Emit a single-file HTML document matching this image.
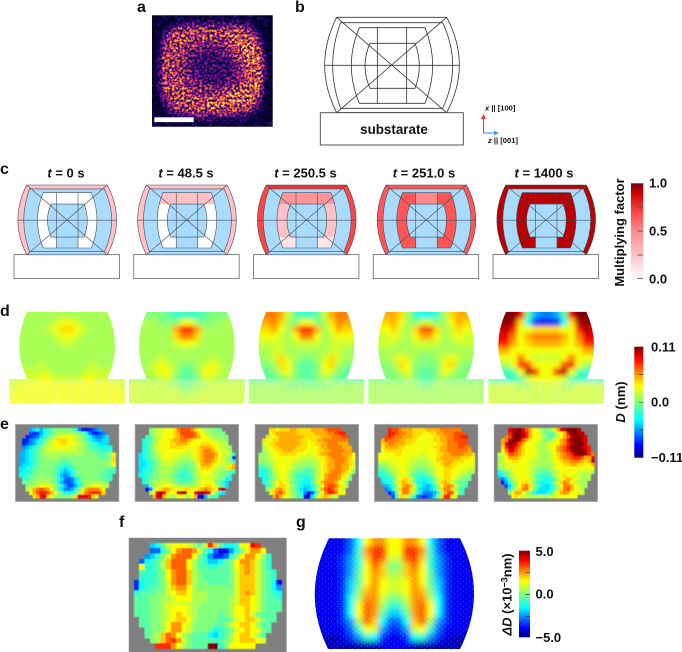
<!DOCTYPE html>
<html lang="en">
<head>
<meta charset="utf-8">
<title>Strain maps figure</title>
<style>
html,body{margin:0;padding:0;background:#fff;width:682px;height:652px;overflow:hidden}
svg{display:block;font-family:"Liberation Sans",sans-serif}
text{font-weight:bold;fill:#111}
.pl{font-size:16px}
.tl{font-size:13px;text-anchor:middle}
.cb{font-size:13px}
</style>
</head>
<body>
<svg id="fig" xmlns="http://www.w3.org/2000/svg" width="682" height="652" viewBox="0 0 682 652">
<defs>
  <linearGradient id="jetV" x1="0" y1="0" x2="0" y2="1">
    <stop offset="0" stop-color="#7f0000"/><stop offset=".11" stop-color="#ff0000"/><stop offset=".35" stop-color="#ffff00"/><stop offset=".66" stop-color="#00ffff"/><stop offset=".89" stop-color="#0000ff"/><stop offset="1" stop-color="#00007f"/>
  </linearGradient>
  <linearGradient id="multV" x1="0" y1="0" x2="0" y2="1">
    <stop offset="0" stop-color="#7a0018"/><stop offset=".1" stop-color="#c80000"/><stop offset=".3" stop-color="#ff4444"/><stop offset=".5" stop-color="#ff8a8c"/><stop offset=".75" stop-color="#ffc0c6"/><stop offset="1" stop-color="#ffffff"/>
  </linearGradient>
  <filter id="blurD" x="-20%" y="-20%" width="140%" height="140%"><feGaussianBlur stdDeviation="2.5"/></filter>
  <filter id="blurG" x="-20%" y="-20%" width="140%" height="140%"><feGaussianBlur stdDeviation="2.6"/></filter>
  <filter id="blurCell" x="-5%" y="-5%" width="110%" height="110%"><feGaussianBlur stdDeviation="0.45"/></filter>
  <filter id="fireNoise" filterUnits="userSpaceOnUse" x="152" y="15.3" width="120.7" height="111.4" color-interpolation-filters="sRGB">
    <feGaussianBlur in="SourceGraphic" stdDeviation="1.5" result="heat"/>
    <feTurbulence type="fractalNoise" baseFrequency="0.4" numOctaves="2" seed="11" result="turb"/>
    <feColorMatrix in="turb" type="matrix" values="2.2 0 0 0 -0.6  2.2 0 0 0 -0.6  2.2 0 0 0 -0.6  0 0 0 0 1" result="grain"/>
    <feComposite in="heat" in2="grain" operator="arithmetic" k1="0.95" k2="0.3" k3="0.1" k4="-0.07" result="mix"/>
    <feComponentTransfer in="mix" result="cmap">
      <feFuncR type="table" tableValues="0 .03 .16 .36 .6 .82 .94 .99 1 1"/>
      <feFuncG type="table" tableValues="0 .01 .03 .05 .12 .26 .46 .66 .86 1"/>
      <feFuncB type="table" tableValues=".12 .24 .42 .52 .5 .36 .2 .12 .2 .55"/>
      <feFuncA type="linear" slope="0" intercept="1"/>
    </feComponentTransfer>
    <feGaussianBlur in="cmap" stdDeviation="0.35"/>
  </filter>
  <pattern id="speck" width="7" height="6" patternUnits="userSpaceOnUse">
    <circle cx="1.5" cy="1.5" r=".6" fill="#fff"/><circle cx="5" cy="2.6" r=".5" fill="#fff"/><circle cx="3" cy="4.8" r=".55" fill="#fff"/>
  </pattern>
  <pattern id="speckG" width="6" height="5" patternUnits="userSpaceOnUse">
    <circle cx="1.5" cy="1.5" r=".55" fill="#fff"/><circle cx="4.5" cy="3.8" r=".55" fill="#fff"/>
  </pattern>
  <clipPath id="clipA"><rect x="152" y="15.3" width="120.7" height="111.4"/></clipPath>
  <clipPath id="clipD"><path d="M17.7,0 L98,0 Q113.4,33.6 98,67.3 L115.7,67.3 L115.7,92 L0,92 L0,67.3 L17.7,67.3 Q2.3,33.6 17.7,0 Z"/></clipPath>
  <clipPath id="clipG"><path d="M329,538.3 L460,538.3 Q488,593.5 460,649 L328,649 Q301,593.5 329,538.3 Z"/></clipPath>
  <clipPath id="clipF"><rect x="128.7" y="537.7" width="158" height="114.3"/></clipPath>
  <clipPath id="clipThird"><path d="M688,83 L885,83 Q931,196 885,310 L688,310 Q640,196 688,83 Z"/></clipPath>
  <g id="wire" fill="none">
    <path vector-effect="non-scaling-stroke" d="M620,52 L950,52 Q1026,195 950,338 L620,338 Q548,195 620,52 Z"/>
    <path vector-effect="non-scaling-stroke" d="M632,68 L938,68 Q998,196 938,325 L632,325 Q584,196 632,68 Z"/>
    <path vector-effect="non-scaling-stroke" d="M688,83 L885,83 Q931,196 885,310 L688,310 Q640,196 688,83 Z"/>
    <path vector-effect="non-scaling-stroke" d="M720,130 L855,130 Q881,197 855,265 L720,265 Q690,197 720,130 Z"/>
    <path vector-effect="non-scaling-stroke" d="M742,83 L742,310 M830,83 L830,310 M584,196 L988,196 M620,52 L950,338 M950,52 L620,338"/>
  </g>
</defs>
<rect x="0" y="0" width="682" height="652" fill="#fff"/>

<text class="pl" x="137" y="12">a</text>
<text class="pl" x="295" y="12">b</text>
<text class="pl" x="0" y="174">c</text>
<text class="pl" x="0" y="316">d</text>
<text class="pl" x="0" y="429">e</text>
<text class="pl" x="119" y="527">f</text>
<text class="pl" x="296" y="527">g</text>

<g id="panelA" clip-path="url(#clipA)"></g>
<rect x="154.3" y="117.3" width="39.4" height="4.8" fill="#fff"/>

<g>
  <use href="#wire" transform="translate(130,0) scale(0.33333)" stroke="#333" stroke-width="0.8"/>
  <rect x="320.3" y="112.7" width="143" height="32.3" fill="#fff" stroke="#444" stroke-width="0.9"/>
  <text x="394" y="134" font-size="13.4" text-anchor="middle">substarate</text>
</g>
<g>
  <path d="M483.5,133 L483.5,118" stroke="#ef3040" stroke-width="1.1" fill="none"/>
  <path d="M481,119 L483.5,114 L486,119 Z" fill="#ef3040"/>
  <path d="M483.5,133 L495,133" stroke="#3a9ad9" stroke-width="1.1" fill="none"/>
  <path d="M494,130.6 L499,133 L494,135.4 Z" fill="#3a9ad9"/>
  <text x="485" y="110.5" font-size="7.6"><tspan font-style="italic">x</tspan> || [100]</text>
  <text x="488" y="143" font-size="7.6"><tspan font-style="italic">z</tspan> || [001]</text>
</g>

<text class="tl" x="66" y="177.5"><tspan font-style="italic">t</tspan> = 0 s</text>
<text class="tl" x="186" y="177.5"><tspan font-style="italic">t</tspan> = 48.5 s</text>
<text class="tl" x="305.5" y="177.5"><tspan font-style="italic">t</tspan> = 250.5 s</text>
<text class="tl" x="424" y="177.5"><tspan font-style="italic">t</tspan> = 251.0 s</text>
<text class="tl" x="544" y="177.5"><tspan font-style="italic">t</tspan> = 1400 s</text>
<g id="panelC"></g>

<g>
  <rect x="631" y="183.3" width="12.3" height="95" fill="url(#multV)"/>
  <path d="M637.5,207 H643 M637.5,231 H643 M637.5,255 H643 M637,278.5 H643" stroke="#444" stroke-width=".7"/>
  <text class="cb" x="649" y="187.5">1.0</text>
  <text class="cb" x="649" y="235.5">0.5</text>
  <text class="cb" x="649" y="283.5">0.0</text>
  <text class="cb" transform="translate(624,232.5) rotate(-90)" text-anchor="middle">Multiplying factor</text>
</g>

<g id="panelD"></g>
<g>
  <rect x="634.3" y="346.7" width="9" height="111" fill="url(#jetV)"/>
  <path d="M639,374.5 H643.3 M639,402.2 H643.3 M639,430 H643.3" stroke="#333" stroke-width=".7"/>
  <text class="cb" x="651" y="351.5">0.11</text>
  <text class="cb" x="651" y="406.5">0.0</text>
  <text class="cb" x="651" y="462">−0.11</text>
  <text class="cb" transform="translate(625,402) rotate(-90)" text-anchor="middle"><tspan font-style="italic">D</tspan> (nm)</text>
</g>

<g id="panelE"></g>
<g id="panelF" clip-path="url(#clipF)"></g>
<g id="panelG" clip-path="url(#clipG)"></g>
<g>
  <rect x="519" y="550.7" width="11" height="86.6" fill="url(#jetV)"/>
  <path d="M525.5,572.5 H530 M525.5,594.5 H530 M525.5,616.5 H530" stroke="#333" stroke-width=".7"/>
  <text class="cb" x="535.5" y="556">5.0</text>
  <text class="cb" x="535.5" y="598.5">0.0</text>
  <text class="cb" x="535.5" y="642">−5.0</text>
  <text class="cb" transform="translate(511.5,594.5) rotate(-90)" text-anchor="middle"><tspan font-style="italic">ΔD</tspan> (×10<tspan font-size="9" dy="-4">−3</tspan><tspan dy="4">nm)</tspan></text>
</g>

<script>
// ---------- panel c factors (multiplying factor 0..1) per time ----------
const timeLabels = ["0 s", "48.5 s", "250.5 s", "251.0 s", "1400 s"];
const outerFactor = [0.25, 0.25, 0.7, 0.65, 0.92];
const topStripFactor = [0.25, 0.25, 0.75, 0.65, 0.92];
const topCornerFactor = [0, 0.25, 0.45, 0.65, 0.92];
const topCenterFactor = [0, 0.25, 0.45, 0.5, 0.92];
const sideFactor = [0, 0, 0.25, 0.65, 0.92];
const bottomCornerFactor = [0, 0, 0.1, 0.65, 0.92];

// ---------- panel a intensity (0..9) ----------
const intensityA = [
[1,1,2,1,1,2,1,2,2,1,1,2,1,2,1,1,2,1,1,2,1,2,1,1],
[1,2,1,1,2,2,3,3,3,3,3,3,3,3,3,3,3,3,3,2,1,1,2,1],
[1,1,1,3,4,5,5,5,5,5,5,5,5,5,5,5,6,6,5,4,2,1,1,1],
[1,1,3,5,6,6,6,6,6,6,6,6,6,6,6,7,6,6,6,6,4,2,1,1],
[1,1,4,6,6,6,6,6,6,6,6,6,5,5,6,7,7,7,7,6,6,3,1,1],
[1,2,5,6,6,6,6,5,5,5,5,5,5,5,5,6,7,7,7,7,6,4,2,1],
[1,2,5,6,6,6,5,5,5,4,4,4,4,4,5,5,6,7,8,7,7,5,2,1],
[1,2,6,6,6,6,5,4,4,4,3,3,3,4,4,5,5,6,7,8,7,6,2,1],
[1,3,6,6,6,5,5,4,3,3,3,3,3,3,3,4,5,6,7,8,7,7,3,1],
[1,3,6,6,6,5,5,4,3,3,3,3,3,3,3,3,4,5,6,7,7,7,3,1],
[1,3,6,6,6,5,5,4,3,3,3,3,3,3,3,3,4,5,6,6,7,7,3,1],
[1,3,6,6,6,5,5,4,4,3,3,3,3,3,3,3,4,5,6,6,7,7,3,1],
[1,3,6,6,6,6,5,5,4,4,3,3,3,3,3,4,4,5,6,6,7,7,3,1],
[1,3,6,6,6,6,5,5,5,4,4,4,3,3,4,4,5,5,6,7,7,7,2,1],
[1,3,6,6,6,6,6,5,5,5,5,5,5,5,5,5,6,6,7,7,7,6,2,1],
[1,2,5,6,6,6,6,6,5,5,5,5,5,6,6,7,7,7,7,7,7,5,2,1],
[1,2,4,6,6,6,6,6,6,6,6,6,6,7,7,7,8,7,7,7,6,4,1,1],
[1,1,3,5,6,6,6,6,6,6,7,7,7,7,7,7,7,7,6,6,5,3,1,1],
[1,1,2,4,5,5,6,6,6,6,6,6,6,6,6,6,6,6,6,5,4,2,1,1],
[1,1,1,2,3,4,4,4,5,5,5,5,5,5,5,5,4,4,4,3,2,1,1,1],
[1,2,1,1,2,2,2,2,2,3,3,3,2,2,2,2,2,2,2,1,1,2,1,1],
[2,1,1,2,1,2,1,1,2,1,1,2,1,1,2,1,1,2,1,1,2,1,1,2]];

// ---------- panel d: simulated D (units 0.01 nm) ----------
const simD0 = [
[1,1,1,1,1,1,1,1,1,1,1,1,1,1,1,1],
[1,1,1,1,1,1,2,3,3,2,1,1,1,1,1,1],
[1,1,1,1,1,2,3,4,4,3,2,1,1,1,1,1],
[1,1,1,1,1,1,2,3,3,2,1,1,1,1,1,1],
[1,1,1,1,1,1,1,2,2,1,1,1,1,1,1,1],
[1,1,1,1,1,1,1,1,1,1,1,1,1,1,1,1],
[1,1,1,1,1,1,1,1,1,1,1,1,1,1,1,1],
[1,1,1,1,2,1,1,1,1,1,1,2,1,1,1,1],
[2,2,2,2,2,2,1,1,1,1,2,2,2,2,2,2],
[2,2,2,2,3,3,2,2,2,2,3,3,2,2,2,2],
[2,3,3,3,3,3,3,3,3,3,3,3,3,3,3,2],
[3,3,3,3,3,3,3,3,3,3,3,3,3,3,3,3],
[3,3,3,3,3,3,3,3,3,3,3,3,3,3,3,3]];
const simD1 = [
[0,0,0,0,0,-1,-2,-2,-2,-2,-1,0,0,0,0,0],
[1,1,1,1,0,0,0,3,3,0,0,0,1,1,1,1],
[1,1,1,1,1,1,5,8,8,5,1,1,1,1,1,1],
[1,1,1,1,1,1,4,6,6,4,1,1,1,1,1,1],
[1,1,1,1,1,1,2,3,3,2,1,1,1,1,1,1],
[1,1,1,1,1,1,1,1,1,1,1,1,1,1,1,1],
[1,1,1,1,2,1,1,1,1,1,1,2,1,1,1,1],
[1,1,1,2,3,2,1,0,0,1,2,3,2,1,1,1],
[1,1,1,2,3,3,1,-1,-1,1,3,3,2,1,1,1],
[1,1,1,1,2,2,0,-1,-1,0,2,2,1,1,1,1],
[2,2,2,2,2,1,1,0,0,1,1,2,2,2,2,2],
[2,2,2,2,2,2,2,1,1,2,2,2,2,2,2,2],
[2,2,2,2,2,2,2,2,2,2,2,2,2,2,2,2]];
const simD2 = [
[6,6,6,6,5,2,-1,-2,-2,-1,2,5,6,6,6,6],
[5,5,5,6,4,1,0,3,3,0,1,4,6,5,5,5],
[3,4,4,5,3,1,5,8,8,5,1,3,5,4,4,3],
[2,3,3,3,2,1,3,6,6,3,1,2,3,3,3,2],
[2,2,2,2,2,1,2,2,2,2,1,2,2,2,2,2],
[1,1,1,2,2,1,1,1,1,1,1,2,2,1,1,1],
[1,1,1,2,4,2,1,0,0,1,2,4,2,1,1,1],
[0,0,0,1,4,3,0,-1,-1,0,3,4,1,0,0,0],
[-1,-1,-1,0,2,3,0,-1,-1,0,3,2,0,-1,-1,-1],
[-1,-1,-1,-1,0,1,0,-1,-1,0,1,0,-1,-1,-1,-1],
[1,1,1,1,1,0,0,0,0,0,0,1,1,1,1,1],
[1,1,1,1,1,1,1,1,1,1,1,1,1,1,1,1],
[1,1,1,1,1,1,1,1,1,1,1,1,1,1,1,1]];
const simD3 = [
[5,5,5,5,4,1,-2,-3,-3,-2,1,4,5,5,5,5],
[4,4,4,5,3,1,0,2,2,0,1,3,5,4,4,4],
[3,3,3,4,2,1,4,7,7,4,1,2,4,3,3,3],
[2,2,2,3,2,1,3,5,5,3,1,2,3,2,2,2],
[2,2,2,2,1,1,2,2,2,2,1,1,2,2,2,2],
[1,1,1,1,1,1,1,1,1,1,1,1,1,1,1,1],
[1,1,1,2,3,2,1,0,0,1,2,3,2,1,1,1],
[0,0,0,1,4,3,0,0,0,0,3,4,1,0,0,0],
[0,0,0,0,2,3,0,-1,-1,0,3,2,0,0,0,0],
[0,0,0,0,0,1,0,-1,-1,0,1,0,0,0,0,0],
[1,1,1,1,1,1,1,0,0,1,1,1,1,1,1,1],
[1,1,1,1,1,1,1,1,1,1,1,1,1,1,1,1],
[1,1,1,1,1,1,1,1,1,1,1,1,1,1,1,1]];
const simD4 = [
[10,10,11,11,9,-1,-5,-6,-6,-5,-1,9,11,11,10,10],
[9,10,11,10,4,-3,-8,-9,-9,-8,-3,4,10,11,10,9],
[9,9,10,8,3,3,4,4,4,4,3,3,8,10,9,9],
[9,9,9,6,3,5,6,6,6,6,5,3,6,9,9,9],
[8,8,8,5,3,4,5,5,5,5,4,3,5,8,8,8],
[5,5,5,3,3,3,3,3,3,3,3,3,3,5,5,5],
[3,3,3,3,6,3,2,2,2,2,3,6,3,3,3,3],
[1,1,1,3,8,7,3,3,3,3,7,8,3,1,1,1],
[-2,-2,-2,-1,3,10,9,3,3,9,10,3,-1,-2,-2,-2],
[-2,-2,-2,-2,-1,2,3,3,3,3,2,-1,-2,-2,-2,-2],
[2,2,2,2,1,1,2,2,2,2,1,1,2,2,2,2],
[2,2,2,2,2,2,2,2,2,2,2,2,2,2,2,2],
[2,2,2,2,2,2,2,2,2,2,2,2,2,2,2,2]];

// ---------- panel e: measured D (units 0.01 nm), rows listed inside sample outline ----------
const measD0 = [
[-5,-4,-3,-5,-3,-2,-1,0,0,0,0,0,-1,-2,-6,-8,-9,-8,-7,-6,-5],
[-7,-8,-7,-5,-3,-2,-1,0,1,1,1,1,1,0,0,-1,-3,-6,-8,-8,-7,-6],
[-8,-8,-7,-6,-4,-3,-1,0,1,2,3,3,3,3,2,1,0,-1,-3,-5,-6,-6,-5,-4],
[-8,-8,-6,-5,-4,-2,-1,1,2,3,4,4,4,3,3,2,1,0,-1,-3,-4,-5,-5,-4,-4],
[-8,-7,-6,-5,-3,-2,0,1,2,3,3,4,4,3,3,2,2,1,0,-1,-2,-3,-4,-4,-4],
[-6,-5,-4,-3,-1,0,1,2,3,3,3,3,3,3,2,2,1,1,0,-1,-2,-2,-3,-3,-3,-3],
[-5,-4,-3,-2,-1,0,1,2,2,2,2,2,2,2,2,2,1,1,0,0,-1,-1,-2,-2,-2,-2],
[-5,-5,-4,-3,-2,-1,0,1,1,1,1,1,1,1,1,1,1,1,1,0,0,0,-1,-1,-1,-1,1,3],
[-5,-5,-4,-3,-2,-1,0,0,1,1,1,1,0,0,0,0,0,0,0,0,0,0,0,-1,-1,-1,0,4],
[-5,-5,-4,-3,-2,-1,0,0,0,0,0,0,-1,-1,-1,0,0,0,0,0,0,0,0,0,0,0,1,4],
[-5,-4,-4,-3,-2,-1,0,0,0,0,0,-1,-2,-2,-2,-1,0,0,0,0,0,0,0,0,0,0,1,3],
[-4,-4,-3,-2,-1,-1,0,0,0,0,-1,-2,-3,-4,-3,-2,-1,0,0,0,0,0,0,0,0,-1,-1,-1],
[-4,-3,-3,-2,-1,0,0,0,0,0,-1,-2,-4,-5,-4,-3,-1,0,0,0,0,0,0,0,-1,-1,-2,-2],
[-3,-3,-2,-1,0,0,0,0,0,0,-1,-3,-5,-6,-5,-3,-1,0,0,0,0,0,0,-1,-1,-2,-2],
[-2,-2,-1,0,0,1,1,1,0,0,-2,-4,-6,-7,-6,-4,-2,0,0,0,0,0,0,-1,-1,-2],
[-1,0,0,1,1,1,1,1,0,-1,-3,-5,-7,-7,-6,-4,-2,0,1,1,1,1,1,0,0],
[0,1,1,2,3,3,3,2,1,-1,-3,-5,-7,-7,-5,-3,-1,1,2,3,3,3,2,1],
[1,3,5,6,7,6,5,3,0,-2,-4,-6,-6,-5,-3,0,3,5,6,6,6,5,3],
[3,5,7,8,8,7,5,3,1,-1,-3,-3,-3,-1,1,4,6,7,8,8,7,4],
[4,5,9,9,4,2,1,0,0,0,0,1,4,9,9,9,8,4,3]];
const measD1 = [
[0,1,2,2,3,3,3,4,6,7,7,7,6,4,3,2,1,1,0,0,-1],
[0,1,2,2,3,3,3,4,5,7,7,7,7,6,4,3,2,1,0,0,0,0],
[-2,-1,0,1,2,3,3,3,4,5,6,7,7,7,6,5,3,3,2,1,1,0,0,0],
[-3,-2,-1,0,2,3,3,3,4,5,5,6,6,5,4,3,3,3,3,3,2,2,1,1,0],
[-3,-2,-1,1,2,3,3,3,4,4,5,5,5,4,3,3,3,4,4,4,3,3,2,2,1],
[-3,-2,0,1,2,3,3,3,4,4,4,4,3,3,3,3,4,5,5,5,4,3,2,2,1,0],
[-3,-2,-1,0,2,3,3,3,3,3,3,3,3,2,3,3,4,5,6,6,5,4,3,2,2,1],
[-4,-3,-2,-1,0,1,2,3,3,3,3,3,2,2,2,2,3,4,5,6,6,6,5,3,2,2,1,-3],
[-4,-3,-2,-1,0,1,2,3,3,3,2,2,1,1,1,2,3,4,5,6,6,6,4,3,2,1,0,-9],
[-4,-4,-3,-2,-1,0,1,2,2,2,2,1,1,0,0,1,2,4,5,6,6,5,4,3,2,1,0,-3],
[-4,-4,-3,-2,-1,0,1,2,2,2,1,0,0,-1,0,0,1,3,5,5,5,4,3,2,2,2,3,5],
[-4,-3,-3,-2,-1,0,1,1,1,1,0,0,-1,-1,-1,0,1,2,4,4,4,3,2,1,1,2,4,5],
[-4,-3,-2,-2,-1,0,1,1,1,1,0,-1,-2,-2,-1,0,1,2,3,3,3,2,1,1,0,0,-1,-2],
[-3,-3,-2,-1,0,0,1,1,1,0,-1,-2,-2,-2,-2,-1,1,2,3,3,2,2,1,0,0,-1,-3],
[-3,-2,-1,0,0,1,1,1,1,0,-1,-2,-2,-2,-1,0,1,2,3,3,2,1,0,0,-3,-3],
[-3,-1,0,1,1,2,2,2,1,0,-1,-1,-1,-1,0,1,2,3,3,3,2,0,-1,-3,-4],
[-5,-1,1,2,2,3,3,3,2,1,1,1,1,1,1,2,3,4,4,3,2,0,-2,-4],
[-9,-6,1,3,4,5,5,4,3,3,3,4,4,3,3,4,5,6,5,4,3,9,10],
[1,3,9,10,9,4,3,3,9,10,10,3,3,9,10,10,10,9,3,0,-3,-4],
[5,9,10,5,2,1,1,3,3,2,1,3,5,-9,-10,-5,0,-2,-1]];
const measD2 = [
[4,4,3,4,4,4,5,5,4,4,4,4,5,5,5,5,6,7,7,7,7],
[3,4,5,5,5,5,5,5,4,4,4,4,4,5,5,5,5,6,6,7,8,8],
[4,2,3,4,5,5,5,5,5,5,5,4,4,4,4,4,5,5,5,6,6,6,7,7],
[4,2,3,4,4,5,5,5,5,5,5,4,4,3,4,4,5,5,6,6,6,6,6,6,6],
[2,3,4,4,5,5,5,5,5,5,5,4,4,3,3,4,4,5,5,6,6,6,5,5,5],
[1,2,3,4,4,5,5,5,5,5,4,4,4,3,3,3,4,5,5,6,6,6,6,5,5,5],
[1,2,3,3,4,4,5,5,5,4,4,4,3,3,3,3,4,4,5,5,6,6,6,6,5,5],
[0,0,1,2,3,3,4,4,4,4,4,3,3,3,2,3,3,4,5,5,6,6,6,6,5,5,5,3],
[1,1,1,2,3,3,3,3,3,3,3,3,2,2,2,2,2,3,3,4,5,6,6,6,6,5,4,3],
[1,0,1,1,2,3,3,3,3,3,2,2,1,1,1,1,2,2,3,4,5,5,6,6,6,5,4,2],
[-1,-1,0,1,2,3,3,3,3,2,1,1,1,1,0,1,1,2,3,4,5,5,6,6,5,5,4,2],
[-2,-2,-1,0,2,3,3,3,3,2,1,0,0,-1,-1,0,1,2,3,4,5,5,6,6,5,5,3,2],
[-3,-3,-2,-1,1,2,3,3,2,1,0,-1,-1,-2,-1,-1,0,2,3,4,5,6,6,6,5,4,3,0],
[-3,-3,-2,-1,1,2,3,3,2,0,-1,-2,-2,-2,-2,-1,1,2,3,5,6,6,6,5,4,3,0],
[-3,-3,-1,0,1,3,3,2,1,-1,-2,-2,-3,-3,-2,0,2,3,5,6,6,6,5,3,2,0],
[-3,-1,0,2,3,4,3,2,0,-1,-2,-3,-3,-3,-1,1,3,5,6,6,6,5,3,2,0],
[-2,-1,1,3,4,4,3,1,0,-2,-3,-4,-4,-3,-1,1,3,6,7,7,6,4,3,1],
[0,2,4,5,6,4,2,1,-1,-3,-4,-5,-4,-3,-1,2,5,7,8,7,5,3,2],
[2,4,6,7,5,3,1,0,-1,-3,-6,-9,-7,-4,0,3,6,8,8,6,3,3],
[5,7,5,3,3,1,0,-1,-2,-9,-9,-4,0,3,4,5,4,2,2]];
const measD3 = [
[8,7,7,6,5,5,5,4,4,4,4,5,5,5,5,6,6,6,6,6,6],
[8,8,7,6,6,5,5,4,4,4,3,3,4,4,5,5,6,6,6,7,7,7],
[7,8,7,6,6,5,5,5,4,4,3,3,3,3,4,4,5,5,6,6,7,7,8,8],
[5,7,6,6,6,5,5,4,4,4,3,3,3,3,3,4,4,5,5,6,6,7,7,7,7],
[4,5,6,6,5,5,5,4,4,3,3,3,3,3,3,3,4,4,5,6,6,6,7,7,7],
[3,5,5,5,5,4,4,3,3,3,3,3,3,3,3,4,4,5,5,6,6,6,7,7,6,6],
[3,4,4,4,4,4,3,3,3,3,3,3,3,3,3,3,4,5,5,6,6,6,6,6,6,5],
[2,3,3,3,3,4,4,3,3,3,3,3,2,2,3,3,3,4,4,5,5,6,6,6,6,5,5,4],
[3,3,3,3,3,3,3,3,3,2,2,2,2,2,2,3,3,4,5,5,5,5,5,5,4,4,4,3],
[2,2,2,2,3,3,3,3,3,2,2,1,1,1,2,2,3,4,4,5,5,5,4,4,4,3,3,3],
[0,1,1,2,2,3,3,3,2,2,1,1,1,1,1,2,3,3,4,5,5,4,4,3,3,3,3,3],
[-1,-1,0,1,2,2,3,3,2,2,1,0,0,0,1,1,2,3,3,4,4,4,3,3,3,3,2,2],
[-2,-2,-1,0,1,2,3,3,2,1,0,-1,-1,-1,0,1,2,3,3,4,4,3,3,3,2,2,1,1],
[-3,-2,-2,-1,0,2,3,3,2,0,-1,-2,-2,-2,-1,0,2,3,3,4,4,3,3,2,1,1,0],
[-3,-3,-2,-1,1,3,4,4,2,0,-2,-3,-3,-3,-2,0,2,3,4,4,3,2,1,0,0,-1],
[-4,-3,-2,-1,2,4,5,4,2,-1,-3,-3,-4,-3,-2,0,2,4,5,4,2,0,0,-1,-1],
[-5,-4,-2,0,3,5,6,5,2,-1,-3,-4,-5,-4,-2,0,3,5,6,5,2,0,-1,-2],
[-6,-5,-2,1,4,6,6,4,1,-2,-4,-5,-5,-4,-2,1,4,6,6,4,1,-1,-2],
[-8,-6,-1,3,6,6,4,1,-2,-4,-6,-6,-6,-5,-3,1,5,7,7,3,0,-2],
[-7,-2,4,4,2,0,-3,-6,-7,-8,-7,-6,-4,0,4,8,8,3,2]];
const measD4 = [
[9,10,10,11,9,7,5,3,3,1,0,0,1,3,5,9,10,11,11,11,10],
[8,10,11,11,10,8,5,3,3,2,0,-1,-1,0,2,3,5,9,11,11,10,10],
[6,7,10,11,11,10,8,5,3,3,2,1,-1,-1,0,2,3,5,7,10,11,11,10,9],
[5,6,10,11,11,10,7,5,3,3,3,2,0,0,1,2,3,5,6,9,10,11,11,10,9],
[5,9,11,10,9,7,5,3,3,3,2,1,1,2,3,3,3,5,6,8,10,11,11,11,9],
[4,8,10,10,8,6,4,3,3,3,2,1,1,2,3,3,5,6,7,9,11,11,11,10,9,8],
[3,6,9,9,7,5,4,3,3,3,2,1,1,1,2,3,5,6,7,8,10,11,11,11,10,8],
[2,2,4,7,7,6,5,4,3,3,3,2,1,1,1,2,3,4,5,6,7,8,10,11,11,10,8,6],
[0,2,3,5,5,5,4,3,3,3,2,2,1,1,1,2,3,4,5,6,6,7,8,8,7,5,5,9],
[1,2,3,3,4,4,3,3,3,2,2,1,1,1,1,2,3,3,4,5,5,6,6,6,5,4,5,10],
[1,2,2,3,3,3,3,3,3,2,2,1,1,1,1,1,2,3,3,4,4,5,5,4,4,3,3,5],
[0,1,2,2,3,3,3,3,3,2,1,0,0,0,0,1,2,3,3,3,3,3,3,3,3,3,3,3],
[-3,-1,0,1,2,3,3,3,3,2,1,0,-1,-1,-1,0,1,2,3,3,3,3,3,2,2,2,2,1],
[-4,-3,-1,1,2,3,3,3,3,2,0,-1,-2,-2,-2,-1,1,2,3,4,3,3,2,2,1,1,1],
[-6,-4,-1,1,2,3,3,3,2,1,-1,-2,-3,-3,-2,-1,1,3,4,5,4,3,2,1,1,1],
[-8,-5,-2,0,2,3,4,4,2,0,-2,-3,-3,-3,-2,0,2,4,6,5,3,2,1,1,1],
[-7,-4,-1,1,3,5,6,4,1,-1,-3,-4,-4,-3,-1,1,3,6,6,5,3,2,1,1],
[-3,0,2,4,6,6,3,0,-2,-4,-4,-4,-3,-1,1,4,6,7,5,3,3,1],
[1,3,5,5,3,1,0,-2,-4,-4,-4,-3,-1,1,3,5,6,5,3,3,2,2],
[3,4,3,2,2,1,1,1,1,1,1,2,2,3,3,3,3,3,3]];

// ---------- panel f: measured difference (units 0.5e-3 nm) ----------
const measF = [
[-4,-3,-1,2,3,3,3,2,1,-1,2,7,4,-1,-3,-3,-2,3,3,8,7],
[-6,-6,-2,0,3,5,6,6,5,2,-1,-3,-6,-8,-8,-5,-2,0,3,5,5,3],
[-5,-4,-2,0,2,5,6,6,6,3,0,-2,-5,-7,-7,-6,-2,0,3,5,5,3,1,-2],
[-6,-3,-2,-1,1,4,6,6,6,3,1,-1,-2,-4,-4,-3,-1,0,3,5,5,4,2,0,-2],
[3,-2,-2,-1,1,4,6,6,6,3,1,-1,-1,-2,-2,-1,-1,0,3,4,5,4,2,0,-2],
[-1,-2,-2,-1,0,3,5,6,6,4,1,0,-1,-1,-1,-1,-1,0,2,4,5,4,2,0,-1,-2],
[-2,-2,-2,-1,0,3,5,6,6,4,1,0,-1,-1,-1,-1,-1,0,2,4,4,4,2,0,-1,-2],
[-7,-3,-2,-2,-1,0,2,5,6,6,4,1,0,0,-1,-1,-1,-1,0,2,4,4,4,2,0,-1,-3,-8],
[-7,-3,-2,-1,-1,0,2,4,5,5,3,1,0,0,0,0,0,0,0,2,4,4,4,2,0,-1,-3,-5],
[-2,-1,-1,-1,0,0,2,3,4,4,3,1,1,1,0,0,0,0,0,2,4,5,4,2,0,-1,-2,-3],
[-1,-1,-1,0,0,1,1,2,3,3,3,1,1,1,0,0,0,0,1,2,4,4,3,2,0,-1,-1,-2],
[-1,-1,-1,0,0,1,2,2,2,2,2,1,1,0,0,0,0,0,1,2,4,4,3,2,0,-1,-1,-1],
[-1,-1,-1,0,0,1,2,3,3,3,2,1,0,0,0,0,0,0,1,3,3,4,3,2,0,-1,-1,-1],
[-1,-1,-1,0,0,1,2,3,4,3,2,1,0,0,0,0,-1,0,1,3,3,4,2,0,-1,-1,-1],
[-1,-1,0,0,1,2,3,4,4,3,1,0,0,0,0,-1,-1,0,2,3,4,4,2,0,-1,-1],
[-1,-1,0,0,1,3,5,5,3,2,0,0,0,0,-1,-1,0,2,3,4,4,3,1,-1,-1],
[-1,0,0,1,3,5,5,3,2,0,0,0,-1,-3,-2,-1,0,2,3,4,3,3,0,-1],
[-1,0,1,4,6,5,3,1,0,-1,-1,-1,-3,-4,-2,-1,1,3,4,4,3,1,-1],
[0,1,4,6,7,5,2,0,-1,-1,-1,-1,-2,-1,0,1,3,4,4,4,3,2],
[7,7,7,5,3,1,0,-1,-1,-1,11,11,-2,0,3,3,3,3,3]];

// ---------- panel g: simulated difference (units 0.5e-3 nm) ----------
const simG = [
[-8,-8,-8,-8,-6,-3,3,5,5,3,3,5,5,3,-3,-6,-8,-8,-8,-8],
[-8,-8,-8,-8,-6,-2,5,7,7,3,3,7,7,5,-2,-6,-8,-8,-8,-8],
[-8,-8,-8,-7,-5,-2,4,7,6,2,2,6,7,4,-2,-5,-7,-8,-8,-8],
[-8,-8,-8,-7,-5,-2,3,6,4,0,0,4,6,3,-2,-5,-7,-8,-8,-8],
[-8,-8,-8,-7,-5,-1,3,5,4,1,1,4,5,3,-1,-5,-7,-8,-8,-8],
[-8,-8,-8,-7,-4,-1,3,5,3,2,2,3,5,3,-1,-4,-7,-8,-8,-8],
[-8,-8,-8,-7,-4,0,4,5,3,2,2,3,5,4,0,-4,-7,-8,-8,-8],
[-8,-8,-8,-7,-3,1,5,5,2,0,0,2,5,5,1,-3,-7,-8,-8,-8],
[-8,-8,-8,-7,-3,3,6,5,1,-2,-2,1,5,6,3,-3,-7,-8,-8,-8],
[-8,-8,-8,-7,-3,3,6,5,-1,-4,-4,-1,5,6,3,-3,-7,-8,-8,-8],
[-8,-8,-8,-7,-5,1,6,4,-3,-6,-6,-3,4,6,1,-5,-7,-8,-8,-8],
[-8,-8,-8,-8,-6,-2,3,2,-5,-7,-7,-5,2,3,-2,-6,-8,-8,-8,-8],
[-9,-9,-9,-8,-7,-5,-2,-3,-7,-8,-8,-7,-3,-2,-5,-7,-8,-9,-9,-9],
[-9,-9,-9,-9,-9,-9,-9,-9,-8,-8,-8,-8,-9,-9,-9,-9,-9,-9,-9,-9]];

const simRows = [simD0, simD1, simD2, simD3, simD4];
const measRows = [measD0, measD1, measD2, measD3, measD4];

// ---------- scales ----------
const NS = 'http://www.w3.org/2000/svg';
function el(tag){ return document.createElementNS(NS, tag); }
function ramp(stops, t){
  t = Math.max(0, Math.min(1, t));
  for (let i = 1; i < stops.length; i++){
    if (t <= stops[i][0]){
      const a = stops[i-1], b = stops[i], f = (t-a[0])/(b[0]-a[0]);
      return 'rgb(' + [1,2,3].map(k => Math.round(a[k]+(b[k]-a[k])*f)).join(',') + ')';
    }
  }
  const l = stops[stops.length-1];
  return 'rgb(' + l[1] + ',' + l[2] + ',' + l[3] + ')';
}
const jetStops = [[0,0,0,127],[.11,0,0,255],[.34,0,255,255],[.65,255,255,0],[.89,255,0,0],[1,127,0,0]];
const multStops = [[0,255,255,255],[.25,255,192,198],[.5,255,138,140],[.7,255,68,68],[.9,200,0,0],[1,122,0,24]];
function jet(v, range){ return ramp(jetStops, (v + range) / (2 * range)); }
function mult(f){ return ramp(multStops, f); }
// intensity is written as grey here; the fireNoise filter adds grain and applies the colour map
function grey(v){ const g = Math.round(255 * v / 9); return 'rgb(' + g + ',' + g + ',' + g + ')'; }

// full rectangular grid of cells; bleed extends outer cells for blurred maps
function fullGrid(parent, rows, x, y, w, h, color, name, bleed){
  const nr = rows.length, nc = rows[0].length, cw = w/nc, ch = h/nr;
  rows.forEach((row, r) => row.forEach((v, c) => {
    const rc = el('rect');
    const x0 = x + c*cw - (c === 0 ? bleed : 0);
    const y0 = y + r*ch - (r === 0 ? bleed : 0);
    const x1 = x + (c+1)*cw + (c === nc-1 ? bleed : 0) + .4;
    const y1 = y + (r+1)*ch + (r === nr-1 ? bleed : 0) + .4;
    rc.setAttribute('x', x0);
    rc.setAttribute('y', y0);
    rc.setAttribute('width', x1-x0);
    rc.setAttribute('height', y1-y0);
    rc.setAttribute('fill', color(v));
    
    
    parent.appendChild(rc);
  }));
}

// outline-shaped pixel map: every row is centred inside a 30 x 22 frame
function pixelMap(parent, rows, x, y, w, h, range, name){
  const cols = 30, frameRows = 22, cw = w/cols, ch = h/frameRows;
  const bg = el('rect');
  bg.setAttribute('x', x);
  bg.setAttribute('y', y);
  bg.setAttribute('width', w);
  bg.setAttribute('height', h);
  bg.setAttribute('fill', '#808080');
  bg.setAttribute('stroke', '#bdbdbd');
  bg.setAttribute('stroke-width', '.7');
  
  
  parent.appendChild(bg);
  const g = el('g');
  g.setAttribute('filter', 'url(#blurCell)');
  g.setAttribute('shape-rendering', 'crispEdges');
  
  
  parent.appendChild(g);
  rows.forEach((row, r) => {
    const start = Math.floor((cols - row.length) / 2);
    row.forEach((v, c) => {
      const rc = el('rect');
      rc.setAttribute('x', x + (start + c) * cw);
      rc.setAttribute('y', y + (r + 1) * ch);
      rc.setAttribute('width', cw + .4);
      rc.setAttribute('height', ch + .4);
      rc.setAttribute('fill', jet(v, range));
      
      
      g.appendChild(rc);
    });
  });
}

// panel a
(function(){
  const host = document.getElementById('panelA');
  const g = el('g');
  g.setAttribute('filter', 'url(#fireNoise)');
  
  
  host.appendChild(g);
  fullGrid(g, intensityA, 152, 15.3, 120.7, 111.4, grey, 'intensity-cell', 6);
})();

// panel c
const cLefts = timeLabels.map((_, i) => 14 + i * 119.75);
const innerShape = 'M720,130 L855,130 Q881,197 855,265 L720,265 Q690,197 720,130 Z';
const bodyShape = 'M620,52 L950,52 Q1026,195 950,338 L620,338 Q548,195 620,52 Z';
const leftStrip = 'M620,52 L632,68 Q584,196 632,325 L620,338 Q548,195 620,52 Z';
const rightStrip = 'M950,52 L938,68 Q998,196 938,325 L950,338 Q1026,195 950,52 Z';
const topStrip = 'M620,52 L950,52 L938,68 L632,68 Z';
function addPath(parent, d, fill, name){
  const p = el('path');
  p.setAttribute('d', d);
  p.setAttribute('fill', fill);
  
  
  parent.appendChild(p);
  return p;
}
function addBand(parent, x, y, w, h, fill, name){
  const p = el('rect');
  p.setAttribute('x', x);
  p.setAttribute('y', y);
  p.setAttribute('width', w);
  p.setAttribute('height', h);
  p.setAttribute('fill', fill);
  
  
  parent.appendChild(p);
}
timeLabels.forEach((lbl, i) => {
  const host = document.getElementById('panelC');
  const g = el('g');
  const left = cLefts[i];
  
  
  host.appendChild(g);
  const sub = el('rect');
  sub.setAttribute('x', left);
  sub.setAttribute('y', 254.6);
  sub.setAttribute('width', 105.4);
  sub.setAttribute('height', 24);
  sub.setAttribute('fill', '#fff');
  sub.setAttribute('stroke', '#666');
  sub.setAttribute('stroke-width', '.8');
  
  
  g.appendChild(sub);
  const t = el('g');
  t.setAttribute('transform', 'translate(' + (left + 12.7) + ',185) scale(0.2442) translate(-620,-52)');
  g.appendChild(t);
  addPath(t, bodyShape, '#a9dcfc', 'body');
  const third = el('g');
  third.setAttribute('clip-path', 'url(#clipThird)');
  t.appendChild(third);
  addBand(third, 600, 83, 142, 47, mult(topCornerFactor[i]), 'ring-top-left');
  addBand(third, 830, 83, 150, 47, mult(topCornerFactor[i]), 'ring-top-right');
  addBand(third, 742, 83, 88, 47, mult(topCenterFactor[i]), 'ring-top-center');
  addBand(third, 600, 130, 380, 135, mult(sideFactor[i]), 'ring-sides');
  addBand(third, 600, 265, 142, 46, mult(bottomCornerFactor[i]), 'ring-bottom-left');
  addBand(third, 830, 265, 150, 46, mult(bottomCornerFactor[i]), 'ring-bottom-right');
  addBand(third, 742, 265, 88, 46, '#a9dcfc', 'ring-bottom-center');
  addPath(t, innerShape, '#a9dcfc', 'core');
  addPath(t, leftStrip, mult(outerFactor[i]), 'outer-left');
  addPath(t, rightStrip, mult(outerFactor[i]), 'outer-right');
  addPath(t, topStrip, mult(topStripFactor[i]), 'outer-top');
  const w = el('use');
  w.setAttribute('href', '#wire');
  w.setAttribute('stroke', '#4a4a54');
  w.setAttribute('stroke-width', '0.6');
  
  
  t.appendChild(w);
});

// panel d
const dLefts = [9.3, 129, 248.6, 368.3, 488.3];
simRows.forEach((rows, i) => {
  const host = document.getElementById('panelD');
  const g = el('g');
  g.setAttribute('transform', 'translate(' + dLefts[i] + ',311.7)');
  g.setAttribute('clip-path', 'url(#clipD)');
  
  
  host.appendChild(g);
  const b = el('g');
  b.setAttribute('filter', 'url(#blurD)');
  g.appendChild(b);
  fullGrid(b, rows, 0, 0, 115.7, 92, v => jet(v, 11), 'simulated-cell', 14);
  const wash = el('rect');
  wash.setAttribute('x', 0);
  wash.setAttribute('y', 67.3);
  wash.setAttribute('width', 115.7);
  wash.setAttribute('height', 24.7);
  wash.setAttribute('fill', '#fff');
  wash.setAttribute('opacity', '.2');
  
  
  g.appendChild(wash);
  const lite = el('rect');
  lite.setAttribute('x', 0);
  lite.setAttribute('y', 67.3);
  lite.setAttribute('width', 115.7);
  lite.setAttribute('height', 24.7);
  lite.setAttribute('fill', 'url(#speck)');
  lite.setAttribute('opacity', '.6');
  
  
  g.appendChild(lite);
});

// panel e
const eLefts = [15.3, 135, 255, 374.3, 494];
measRows.forEach((rows, i) => {
  const host = document.getElementById('panelE');
  const g = el('g');
  
  
  host.appendChild(g);
  pixelMap(g, rows, eLefts[i], 424.3, 103.7, 77.4, 11, 'measured-map');
});

// panel f
pixelMap(document.getElementById('panelF'), measF, 128.7, 537.7, 158, 116, 10, 'difference-measured');

// panel g
(function(){
  const host = document.getElementById('panelG');
  const b = el('g');
  b.setAttribute('filter', 'url(#blurG)');
  
  
  host.appendChild(b);
  fullGrid(b, simG, 315, 538.3, 159, 110.7, v => jet(v, 10), 'difference-simulated-cell', 14);
  const s = el('rect');
  s.setAttribute('x', 310);
  s.setAttribute('y', 538);
  s.setAttribute('width', 170);
  s.setAttribute('height', 112);
  s.setAttribute('fill', 'url(#speckG)');
  s.setAttribute('opacity', '.28');
  
  
  host.appendChild(s);
})();
</script>
</svg>
</body>
</html>
